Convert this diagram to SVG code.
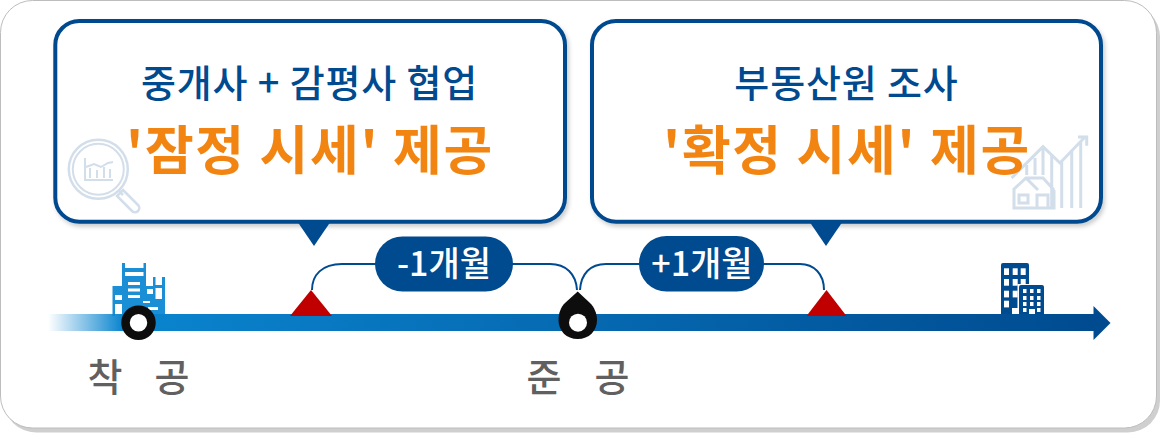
<svg xmlns="http://www.w3.org/2000/svg" width="1161" height="433" viewBox="0 0 1161 433">
<style>
text{font-family:"Noto Sans CJK KR","Noto Sans",sans-serif;text-anchor:middle}
.box{fill:#fff;stroke:#004a8f;stroke-width:4}
.h{font-size:38px;font-weight:500;fill:#004a8f;letter-spacing:.85px}
.o{font-size:53px;font-weight:700;fill:#f28512;letter-spacing:1.7px}
.p{fill:#004a8f}
.pt{font-size:34px;font-weight:500;fill:#fff}
.l{font-size:38px;font-weight:500;fill:#606060}
.c{fill:none;stroke:#004a8f;stroke-width:2}
.ic{fill:none;stroke:#d3deeb;stroke-width:3}
.tri{fill:#c00000}
.b1{fill:#1a8fd6}
.b2{fill:#004a8f}
.w{fill:#fff}
</style>
<defs>
<linearGradient id="ax" x1="48" x2="1110" y1="0" y2="0" gradientUnits="userSpaceOnUse">
<stop offset="0" stop-color="#0a85cf" stop-opacity="0"/>
<stop offset="0.07" stop-color="#0a85cf"/>
<stop offset="1" stop-color="#004a8f"/>
</linearGradient>
<filter id="sh" x="-5%" y="-5%" width="110%" height="110%"><feDropShadow dx="2" dy="3" stdDeviation="2" flood-color="#000" flood-opacity=".2"/></filter>
</defs>
<rect id="frame-shadow" x="4" y="5" width="1156" height="427.500" rx="32" fill="#cfcfcf"/>
<rect id="frame" x="0.5" y="0.5" width="1156" height="427.500" rx="32" fill="#fff" stroke="#bdbdbd"/>

<g id="bubble-left">
<rect class="box" x="55.300" y="21" width="509.700" height="200.700" rx="24" filter="url(#sh)"/>
<g id="icon-magnifier" class="ic">
<circle cx="98.300" cy="169.300" r="29.500" stroke-width="2.500"/><circle cx="98.300" cy="169.300" r="25.500" stroke-width="2"/>
<path d="M118 190l5 5M123 190l15 15a4 4 0 0 1-6 6l-15-15z" stroke-width="2.500"/>
<path d="M85 158v22h28M90 178v-10M97 178v-8M104 178v-11M110 178v-9M86 167l8-3 7 3 7-4 5-1" stroke-width="2"/>
</g>
<text class="h" x="309.500" y="97">중개사 + 감평사 협업</text>
<text class="o" x="310" y="170">'잠정 시세' 제공</text>
<path class="p" d="M297 221h34l-17 25z"/>
</g>

<g id="bubble-right">
<rect class="box" x="592" y="21" width="509" height="200.700" rx="24" filter="url(#sh)"/>
<g id="icon-house" class="ic">
<path d="M1011.700 178L1043 146.700 1060 163 1085 137M1078 137h8.700v8.700"/>
<path d="M1026.700 165v10M1035 158v17M1043 148v27M1051.700 155v53M1061.700 162v46M1071.700 150v58M1080.700 142v66"/>
<path d="M1013 190l13-12h17l11 12M1014 190v18h40v-18M1026 178l12 12M1019 195h9v8h-9zM1037 208v-13h11v13"/>
</g>
<text class="h" x="846.500" y="97">부동산원 조사</text>
<text class="o" x="847" y="170">'확정 시세' 제공</text>
<path class="p" d="M809 221h34l-17 25z"/>
</g>

<g id="icon-crane" class="b1">
<rect x="122" y="263" width="3" height="53"/><rect x="143.500" y="263" width="2.500" height="53"/>
<rect x="122" y="268" width="24" height="4"/><rect x="122" y="276" width="24" height="40"/>
<rect x="153" y="277" width="2.500" height="39"/><rect x="162" y="277" width="3" height="39"/>
<rect x="146" y="286" width="19" height="30"/><rect x="155" y="285" width="8" height="3"/>
<rect x="112.500" y="286" width="2.500" height="30"/><rect x="115" y="286" width="7" height="9"/><rect x="115" y="300" width="7" height="4"/>
<g class="w"><rect x="128" y="282" width="12" height="3"/><rect x="128" y="288.500" width="12" height="3"/><rect x="128" y="295" width="12" height="3"/>
<rect x="147" y="289" width="6" height="5"/><rect x="155.500" y="288" width="6.500" height="11"/>
<rect x="143" y="301" width="7" height="2"/><rect x="148" y="307" width="10" height="3"/>
<rect x="115" y="295" width="7" height="5"/><rect x="115" y="304" width="7" height="10"/></g>
</g>
<g id="icon-building">
<path class="b2" d="M1001 265q0-2 2-2h24q2 0 2 2v50h-28z"/>
<g class="w"><rect x="1004" y="268.300" width="5" height="6.700"/><rect x="1012.700" y="268.300" width="5" height="6.700"/><rect x="1020.700" y="268.300" width="5" height="6.700"/><rect x="1004" y="279" width="5" height="6.700"/><rect x="1012.700" y="279" width="5" height="6.700"/><rect x="1020.700" y="279" width="5" height="6.700"/><rect x="1004" y="290.700" width="5" height="6.700"/><rect x="1012.700" y="290.700" width="5" height="6.700"/><rect x="1004" y="300.700" width="5" height="6.700"/><rect x="1012" y="308" width="6" height="7"/><rect x="1017.500" y="284" width="27" height="31"/></g>
<path class="b2" d="M1019 287q0-2 2-2h21q2 0 2 2v28h-9v-6h-6v6h-10z"/>
<g class="w"><rect x="1023" y="289" width="3.500" height="4"/><rect x="1030" y="289" width="3.500" height="4"/><rect x="1037" y="289" width="3.500" height="4"/><rect x="1023" y="296" width="3.500" height="4"/><rect x="1030" y="296" width="3.500" height="4"/><rect x="1037" y="296" width="3.500" height="4"/><rect x="1023" y="302" width="3.500" height="4"/><rect x="1030" y="302" width="3.500" height="4"/><rect x="1037" y="302" width="3.500" height="4"/><rect x="1023" y="308" width="3.500" height="4"/><rect x="1037" y="308" width="3.500" height="4"/></g>
</g>

<g id="connectors">
<path id="axis" fill="url(#ax)" d="M48 314H1093.500V306L1110.500 323 1093.500 340V331H48z"/>
<path class="c" d="M312 290C312 275 322 264 342 264H550C566 264 576 274 577 290"/>
<path class="c" d="M580 290C581 274 590 264 606 264H800C814 264 824 274 824 290"/>
</g>

<g id="marker-left"><path class="tri" d="M290 316L311 290 332 316z"/></g>
<g id="marker-right"><path class="tri" d="M806.500 316L826.500 290 846.500 316z"/></g>

<g id="pill-minus"><rect class="p" x="375" y="236.500" width="138" height="55" rx="27.500"/><text class="pt" x="444" y="276">-1개월</text></g>
<g id="pill-plus"><rect class="p" x="639" y="236" width="125" height="55.500" rx="27.500"/><text class="pt" x="702" y="276">+1개월</text></g>

<g id="start-node"><circle cx="138.500" cy="322.700" r="13" fill="#fff" stroke="#0d0d0d" stroke-width="8.500"/>
<text class="l" x="105" y="391">착</text><text class="l" x="172" y="391">공</text></g>
<g id="end-node"><path fill="#0d0d0d" d="M577.700 291.500L590 303C594 307 597 313 597 320C597 331 589 339 577.700 339C566.500 339 558.500 331 558.500 320C558.500 313 561 307 565 303z"/><circle class="w" cx="578" cy="322.700" r="9"/>
<text class="l" x="544" y="391">준</text><text class="l" x="612" y="391">공</text></g>
</svg>
